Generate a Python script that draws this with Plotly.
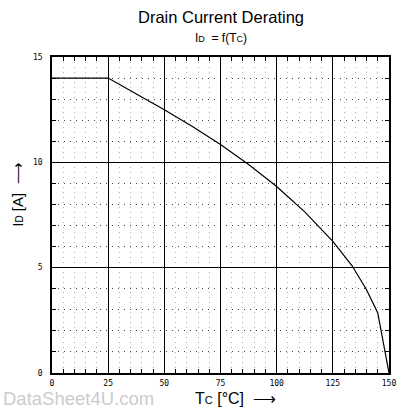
import plotly.graph_objects as go

# Data
tc = [0, 25, 35, 50, 62.5, 75, 87.5, 100, 112.5, 125, 133.5, 140, 145, 150]
id_a = [14, 14, 13.4, 12.5, 11.7, 10.85, 9.9, 8.85, 7.65, 6.25, 5.1, 3.95, 2.85, 0]
x_ticks = [0, 25, 50, 75, 100, 125, 150]
y_ticks = [0, 5, 10, 15]
x_minor = list(range(0, 151, 5))
y_minor = list(range(0, 16, 1))

fig = go.Figure()
fig.add_trace(go.Scatter(x=tc, y=id_a, mode="lines",
                         line=dict(color="black", width=1.2), showlegend=False))
# invisible trace to activate top/right tick axes
fig.add_trace(go.Scatter(x=[0, 150], y=[0, 15], xaxis="x2", yaxis="y2",
                         mode="markers", marker=dict(opacity=0), showlegend=False,
                         hoverinfo="skip"))

X0 = 52
W = 344
T = 57
H = 316


def px(xp):
    return (xp - X0) / W


def py(yp):
    return (T + H - yp) / H


tickfont = dict(size=8, family="DejaVu Sans Mono, monospace", color="black")

fig.update_layout(
    width=404, height=418,
    margin=dict(l=X0, r=404 - X0 - W, t=T, b=418 - T - H),
    paper_bgcolor="white", plot_bgcolor="white",
    font=dict(family="Liberation Sans, Arial, sans-serif", color="black"),
    xaxis=dict(
        range=[0, 150], tickvals=x_ticks, ticktext=[str(v) for v in x_ticks],
        showgrid=True, gridcolor="black", gridwidth=1,
        showline=True, linecolor="black", linewidth=1.5, mirror=True,
        ticks="inside", ticklen=6, tickcolor="black", tickfont=tickfont,
        ticklabelstandoff=2,
        zeroline=False, fixedrange=True,
        minor=dict(dtick=5, tick0=0, showgrid=True, gridcolor="#b0b0b0",
                   griddash="1px,4px", gridwidth=1, ticks="inside",
                   ticklen=4, tickcolor="black"),
    ),
    yaxis=dict(
        range=[0, 15], tickvals=y_ticks, ticktext=[str(v) for v in y_ticks],
        showgrid=True, gridcolor="black", gridwidth=1,
        showline=True, linecolor="black", linewidth=1.5, mirror=True,
        ticks="inside", ticklen=6, tickcolor="black", tickfont=tickfont,
        ticklabelstandoff=6,
        zeroline=False, fixedrange=True,
        minor=dict(dtick=1, tick0=0, showgrid=True, gridcolor="#444444",
                   griddash="1px,5px", gridwidth=1, ticks="inside",
                   ticklen=4, tickcolor="black"),
    ),
    xaxis2=dict(overlaying="x", side="top", anchor="y2", range=[0, 150],
                tickvals=x_minor, ticktext=["" for _ in x_minor],
                ticks="inside", ticklen=4, tickcolor="black",
                showgrid=False, zeroline=False, showline=False, fixedrange=True),
    yaxis2=dict(overlaying="y", side="right", anchor="x2", range=[0, 15],
                tickvals=y_minor, ticktext=["" for _ in y_minor],
                ticks="inside", ticklen=4, tickcolor="black",
                showgrid=False, zeroline=False, showline=False, fixedrange=True),
    annotations=[
        dict(text="Drain Current Derating", xref="paper", yref="paper",
             x=px(224), y=py(17), showarrow=False,
             font=dict(size=16.5), xanchor="center", yanchor="middle"),
        dict(text="I<span style='font-size:9px'>D</span>  = f(T<span style='font-size:9px'>C</span>)",
             xref="paper", yref="paper",
             x=px(224), y=py(38), showarrow=False,
             font=dict(size=12), xanchor="center", yanchor="middle"),
        dict(text="T<span style='font-size:11px'>C</span> [°C]  \u27f6", xref="paper", yref="paper",
             x=px(239), y=py(398), showarrow=False,
             font=dict(size=16), xanchor="center", yanchor="middle"),
        dict(text="I<span style='font-size:10px'>D</span> [A]  \u27f6", xref="paper", yref="paper",
             x=px(16), y=py(195), showarrow=False,
             textangle=-90, font=dict(size=15), xanchor="center", yanchor="middle"),
        dict(text="DataSheet4U.com", xref="paper", yref="paper",
             x=px(0), y=py(398),
             showarrow=False, font=dict(size=18.5, color="#cccccc"),
             xanchor="left", yanchor="middle"),
    ],
)

fig.write_html("out.html")
